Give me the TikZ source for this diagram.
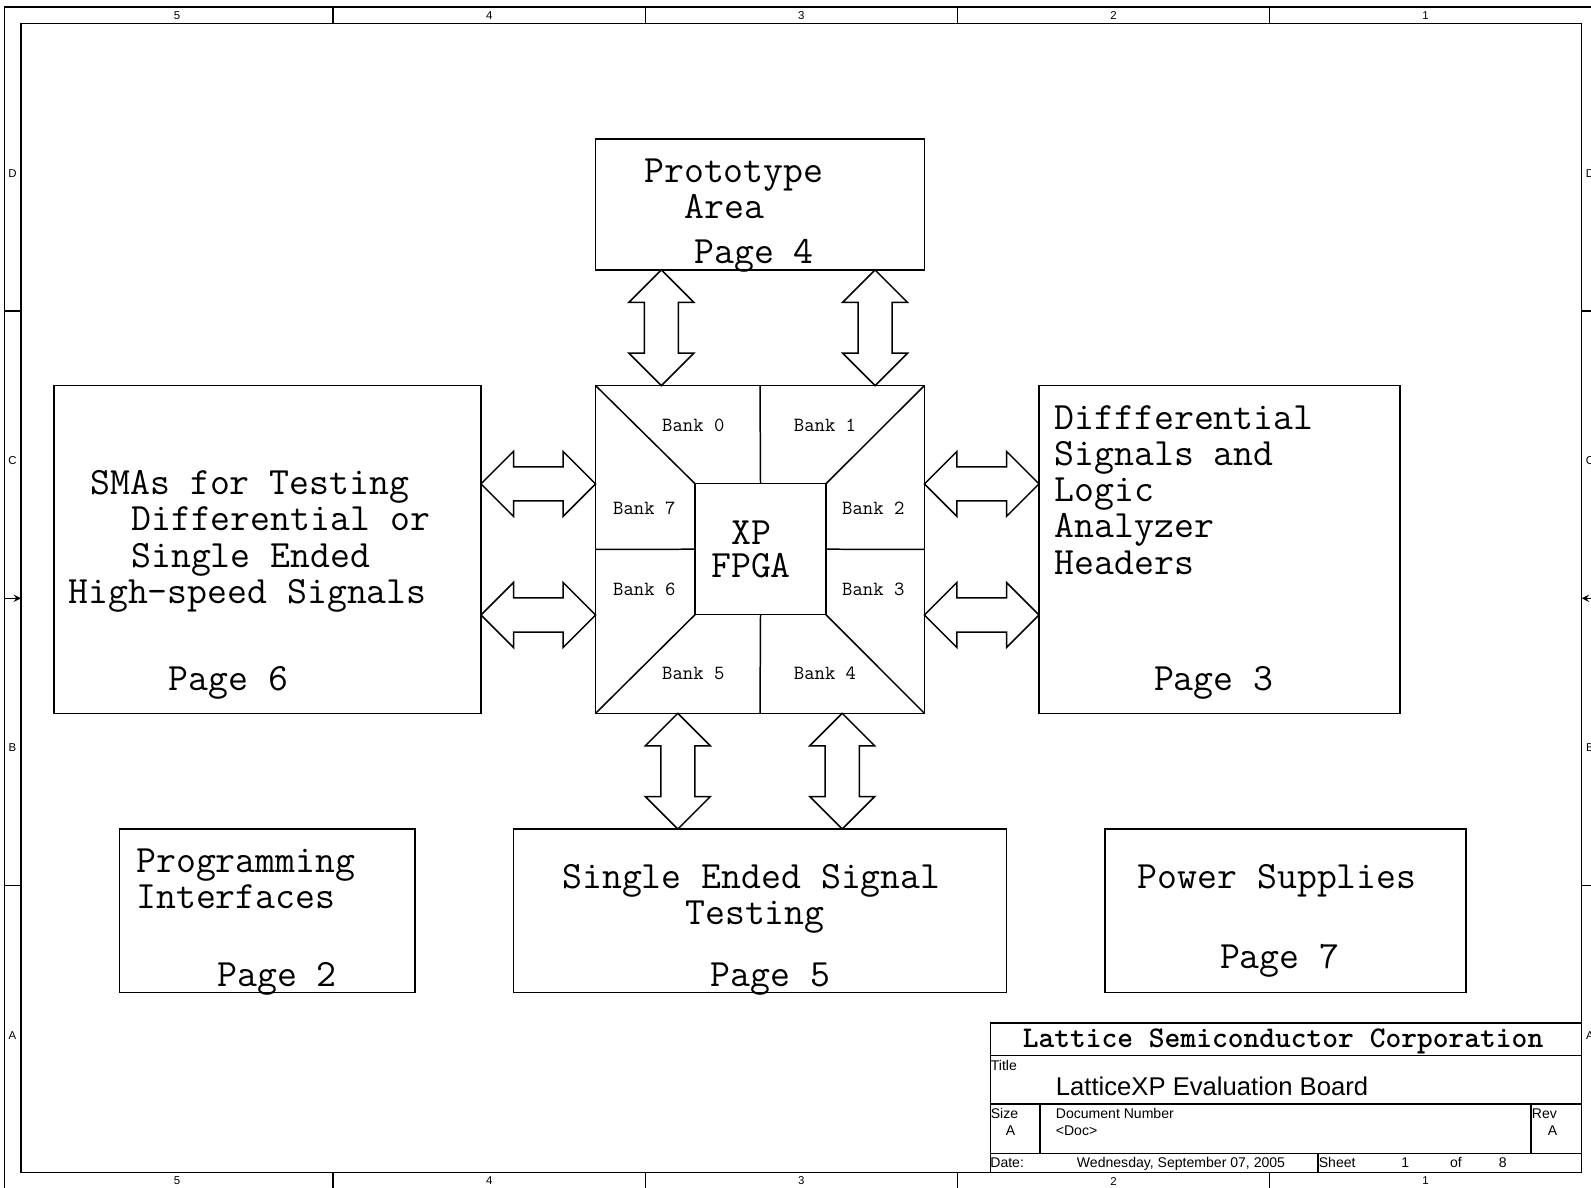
\documentclass[tikz,border=0pt]{standalone}
\usepackage{fontspec}
\setsansfont{Liberation Sans}
\usetikzlibrary{calc,fit}

\tikzset{
  wire/.style={line width=0.85pt},
  blk/.style={draw, wire, inner sep=0pt, outer sep=0pt},
  bigtxt/.style={font=\ttfamily\fontsize{22}{26}\selectfont, inner sep=0pt, anchor=base west},
  banktxt/.style={font=\ttfamily\fontsize{11.45}{13}\selectfont, inner sep=0pt, anchor=base},
  tbtxt/.style={font=\sffamily\fontsize{8}{9}\selectfont, inner sep=0pt, anchor=base west},
  frmtxt/.style={font=\sffamily\fontsize{6.5}{7}\selectfont, inner sep=0pt},
  vbig/.style={wire, to path={let \p1=(\tikztostart), \p2=(\tikztotarget) in
    -- (\x1+18.5pt,\y1-18.5pt) -- (\x1+9.7pt,\y1-18.5pt) -- (\x1+9.7pt,\y2+18.5pt)
    -- (\x1+18.5pt,\y2+18.5pt) -- (\x2,\y2) -- (\x1-18.5pt,\y2+18.5pt)
    -- (\x1-9.7pt,\y2+18.5pt) -- (\x1-9.7pt,\y1-18.5pt) -- (\x1-18.5pt,\y1-18.5pt) -- cycle}},
  hbig/.style={wire, to path={let \p1=(\tikztostart), \p2=(\tikztotarget) in
    -- (\x1+18.5pt,\y1+18.5pt) -- (\x1+18.5pt,\y1+9.7pt) -- (\x2-18.5pt,\y1+9.7pt)
    -- (\x2-18.5pt,\y1+18.5pt) -- (\x2,\y2) -- (\x2-18.5pt,\y1-18.5pt)
    -- (\x2-18.5pt,\y1-9.7pt) -- (\x1+18.5pt,\y1-9.7pt) -- (\x1+18.5pt,\y1-18.5pt) -- cycle}}
}

\begin{document}
\begin{tikzpicture}[x=0.02cm, y=-0.02cm]
	\useasboundingbox (0,0) rectangle (1591,1187);
	\fill[white] (0,0) rectangle (1591,1187);
	\clip (0,0) rectangle (1591,1187);
	
	% sheet frame
	\draw[wire] (4.5,7) rectangle (1598.2,1189.2);
	\draw[wire] (21,23.7) rectangle (1581.7,1172.7);
	\draw[wire] (333.1,7) -- (333.1,23.7) (645.3,7) -- (645.3,23.7) (957.4,7) -- (957.4,23.7) (1269.6,7) -- (1269.6,23.7);
	\draw[wire] (333.1,1172.7) -- (333.1,1189.2) (645.3,1172.7) -- (645.3,1189.2) (957.4,1172.7) -- (957.4,1189.2) (1269.6,1172.7) -- (1269.6,1189.2);
	\draw[wire] (4.5,311) -- (21,311) (4.5,885.5) -- (21,885.5) (1581.7,311) -- (1598.2,311) (1581.7,885.5) -- (1598.2,885.5);
	\draw[wire,-stealth] (4.5,598.3) -- (21,598.3);
	\draw[wire,-stealth] (1598.2,598.3) -- (1581.7,598.3);
	
	\node[frmtxt] (top5) at (177,15.5){5};
	\node[frmtxt] (top4) at (489.2,15.5){4};
	\node[frmtxt] (top3) at (801.3,15.5){3};
	\node[frmtxt] (top2) at (1113.5,15.5){2};
	\node[frmtxt] (top1) at (1425.6,15.5){1};
	\node[frmtxt] (bot5) at (177,1181){5};
	\node[frmtxt] (bot4) at (489.2,1181){4};
	\node[frmtxt] (bot3) at (801.3,1181){3};
	\node[frmtxt] (bot2) at (1113.5,1181){2};
	\node[frmtxt] (bot1) at (1425.6,1181){1};
	\node[frmtxt] (lftD) at (12.5,173.5){D};
	\node[frmtxt] (lftC) at (12.5,460.7){C};
	\node[frmtxt] (lftB) at (12.5,747.8){B};
	\node[frmtxt] (lftA) at (12.5,1036){A};
	\node[frmtxt] (rgtD) at (1590,173.5){D};
	\node[frmtxt] (rgtC) at (1590,460.7){C};
	\node[frmtxt] (rgtB) at (1590,747.8){B};
	\node[frmtxt] (rgtA) at (1590,1036){A};
	
	% blocks
	\node[blk, fit={(595.6,139) (924.4,269.9)}] (proto){};
	\node[blk, fit={(595.6,385.6) (924.4,713.3)}] (fpga){};
	\node[blk, fit={(695,483.7) (826,614.7)}] (core){};
	\node[blk, fit={(53.8,385.6) (481,713.3)}] (smas){};
	\node[blk, fit={(1039,385.6) (1400.2,713.3)}] (diff){};
	\node[blk, fit={(119.7,829) (415,992.3)}] (prog){};
	\node[blk, fit={(513.4,829) (1006.5,992.3)}] (single){};
	\node[blk, fit={(1105,829) (1466.2,992.3)}] (power){};
	
	\draw[wire] (fpga.north west) -- (core.north west) (fpga.north east) -- (core.north east)
		(fpga.south west) -- (core.south west) (fpga.south east) -- (core.south east)
		(fpga.north) -- (core.north) (fpga.south) -- (core.south)
		(fpga.west) -- (core.west) (fpga.east) -- (core.east);
	
	\node[bigtxt] (protoL1) at (644,182.5){Prototype};
	\node[bigtxt] (protoL2) at (684,218){Area};
	\node[bigtxt] (protoPg) at (694,263.5){Page 4};
	
	\node[font=\ttfamily\fontsize{22}{18.8}\selectfont, inner sep=0pt, align=center] (xpfpga) at (751,549){XP\\FPGA};
	\node[banktxt] (bank0) at (693.3,431.7){Bank 0};
	\node[banktxt] (bank1) at (825,431.7){Bank 1};
	\node[banktxt] (bank7) at (644.3,514){Bank 7};
	\node[banktxt] (bank2) at (873.3,514){Bank 2};
	\node[banktxt] (bank6) at (644.3,595.7){Bank 6};
	\node[banktxt] (bank3) at (873.3,595.7){Bank 3};
	\node[banktxt] (bank5) at (693.3,679){Bank 5};
	\node[banktxt] (bank4) at (825,679){Bank 4};
	
	\node[bigtxt] (smaL1) at (90.3,494){SMAs for Testing};
	\node[bigtxt] (smaL2) at (131,530.5){Differential or};
	\node[bigtxt] (smaL3) at (131,567){Single Ended};
	\node[bigtxt] (smaL4) at (68,603.6){High-speed Signals};
	\node[bigtxt] (smaPg) at (168.5,690){Page 6};
	
	\node[bigtxt] (diffL1) at (1054.3,429){Diffferential};
	\node[bigtxt] (diffL2) at (1054.3,465.6){Signals and};
	\node[bigtxt] (diffL3) at (1054.3,501){Logic};
	\node[bigtxt] (diffL4) at (1054.3,537.6){Analyzer};
	\node[bigtxt] (diffL5) at (1054.3,574){Headers};
	\node[bigtxt] (diffPg) at (1153.7,690){Page 3};
	
	\node[bigtxt] (progL1) at (136,872.5){Programming};
	\node[bigtxt] (progL2) at (136,908){Interfaces};
	\node[bigtxt] (progPg) at (217,986){Page 2};
	
	\node[bigtxt] (singL1) at (562,888.7){Single Ended Signal};
	\node[bigtxt] (singL2) at (685,924){Testing};
	\node[bigtxt] (singPg) at (710.3,986){Page 5};
	
	\node[bigtxt] (powL1) at (1137.5,888.7){Power Supplies};
	\node[bigtxt] (powPg) at (1219.7,968){Page 7};
	
	% block arrows
	\coordinate (t1) at ($(proto.south west)!0.2!(proto.south east)$);
	\coordinate (t2) at ($(proto.south west)!0.85!(proto.south east)$);
	\coordinate (b1) at ($(fpga.south west)!0.25!(fpga.south east)$);
	\coordinate (b2) at ($(fpga.south west)!0.75!(fpga.south east)$);
	\coordinate (l1) at ($(fpga.north west)!0.3!(fpga.south west)$);
	\coordinate (l2) at ($(fpga.north west)!0.7!(fpga.south west)$);
	\coordinate (r1) at ($(fpga.north east)!0.3!(fpga.south east)$);
	\coordinate (r2) at ($(fpga.north east)!0.7!(fpga.south east)$);
	\draw[vbig] (t1) to (t1 |- fpga.north);
	\draw[vbig] (t2) to (t2 |- fpga.north);
	\draw[vbig] (b1) to (b1 |- single.north);
	\draw[vbig] (b2) to (b2 |- single.north);
	\draw[hbig] (l1 -| smas.east) to (l1);
	\draw[hbig] (l2 -| smas.east) to (l2);
	\draw[hbig] (r1) to (r1 -| diff.west);
	\draw[hbig] (r2) to (r2 -| diff.west);
	
	% title block
	\node[blk, fit={(990.3,1022.8) (1581.7,1172.7)}] (tblock){};
	\draw[wire] (990.3,1055.3) -- (1581.7,1055.3) (990.3,1104) -- (1581.7,1104) (990.3,1153.7) -- (1581.7,1153.7);
	\draw[wire] (1040,1104) -- (1040,1153.7) (1531,1104) -- (1531,1153.7) (1318,1153.7) -- (1318,1172.7);
	\node[font=\ttfamily\bfseries\fontsize{17.1}{20}\selectfont, inner sep=0pt, anchor=base] (company) at (1283,1047.5){Lattice Semiconductor Corporation};
	\node[tbtxt] (ttl) at (990.5,1070){Title};
	\node[font=\sffamily\fontsize{14.6}{17}\selectfont, inner sep=0pt, anchor=base west] (ttlTxt) at (1055.5,1095.9){LatticeXP Evaluation Board};
	\node[tbtxt] (size) at (990.5,1118){Size};
	\node[tbtxt, anchor=base] (sizeVal) at (1010.6,1135){A};
	\node[tbtxt] (docnum) at (1055.5,1118){Document Number};
	\node[tbtxt] (docVal) at (1055.5,1135){<Doc>};
	\node[tbtxt] (rev) at (1531.5,1118){Rev};
	\node[tbtxt, anchor=base] (revVal) at (1552.5,1135){A};
	\node[tbtxt] (date) at (990,1167){Date:};
	\node[tbtxt, anchor=base] (dateVal) at (1181,1167){Wednesday, September 07, 2005};
	\node[tbtxt] (sheet) at (1318.5,1167){Sheet};
	\node[tbtxt, anchor=base] (sheetNo) at (1405.3,1167){1};
	\node[tbtxt, anchor=base] (sheetOf) at (1456,1167){of};
	\node[tbtxt, anchor=base] (sheetTot) at (1502.7,1167){8};
\end{tikzpicture}
\end{document}
